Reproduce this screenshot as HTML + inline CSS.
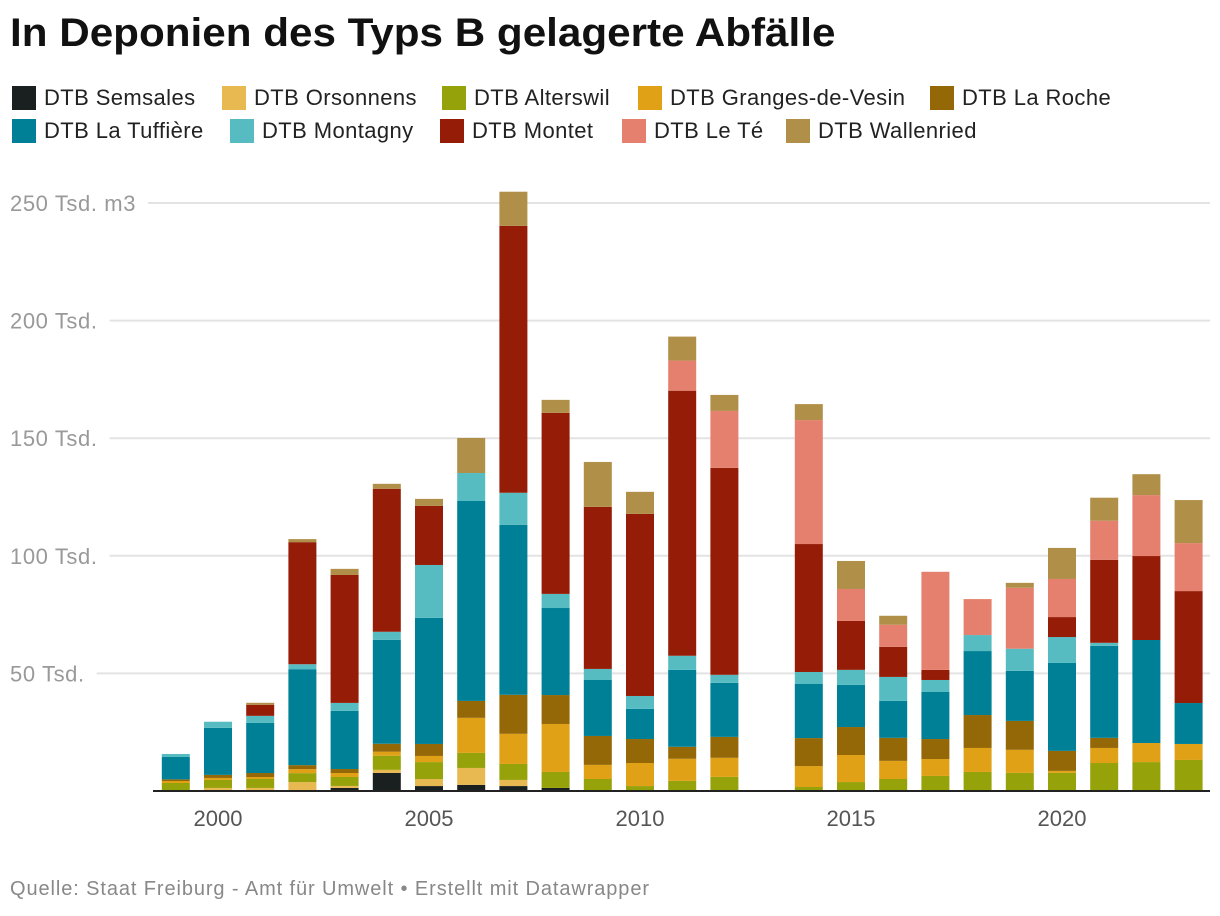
<!DOCTYPE html>
<html><head><meta charset="utf-8">
<style>
body{margin:0;background:#fff;font-family:"Liberation Sans",Roboto,sans-serif;}
#wrap{position:relative;width:1220px;height:916px;overflow:hidden;}
h1{position:absolute;left:10px;top:11px;margin:0;font-size:40px;font-weight:bold;color:#111;transform:scaleX(1.055);transform-origin:0 0;white-space:nowrap;}
.leg{position:absolute;display:flex;align-items:center;font-size:22px;color:#222;letter-spacing:0.4px;white-space:nowrap;}
.sw{width:24px;height:24px;margin-right:8px;display:inline-block;}
#foot{position:absolute;left:10px;top:878px;font-size:20px;letter-spacing:0.9px;color:#888;white-space:nowrap;}
</style></head>
<body><div id="wrap">
<h1>In Deponien des Typs B gelagerte Abfälle</h1>
<div id="legend"></div>
<svg id="chart" width="1220" height="916" style="position:absolute;left:0;top:0"></svg>
<div id="foot">Quelle: Staat Freiburg - Amt für Umwelt • Erstellt mit Datawrapper</div>
</div>
<script>
const years=[1999,2000,2001,2002,2003,2004,2005,2006,2007,2008,2009,2010,2011,2012,2014,2015,2016,2017,2018,2019,2020,2021,2022,2023];
const seriesNames=["DTB Semsales","DTB Orsonnens","DTB Alterswil","DTB Granges-de-Vesin","DTB La Roche","DTB La Tuffière","DTB Montagny","DTB Montet","DTB Le Té","DTB Wallenried"];
const colors=["#1a1f1f","#e8b851","#96a20a","#e0a117","#956807","#008097","#56bcc2","#951d08","#e5806e","#b08f48"];
const semsales=[0,0,0,0.4,1.3,7.7,2.1,2.6,2.1,1.3,0,0,0,0,0,0,0,0,0,0,0,0,0,0];
const orsonnens=[0,1.3,1.3,3.4,0.85,1.3,3,7.2,2.6,0,0,0,0,0,0,0,0,0,0,0,0,0,0,0];
const alterswil=[3.4,3.4,3.8,3.8,3.8,6,7.2,6.4,6.8,6.8,5.1,2.1,4.3,6,1.7,3.8,5.1,6.4,8.1,7.7,7.7,11.9,12.3,13.2];
const granges=[0.85,0.85,0.85,1.7,1.7,1.7,2.6,14.9,12.8,20.4,6,9.8,9.4,8.1,8.9,11.5,7.7,7.2,10.2,9.8,0.85,6.4,8.1,6.8];
const laRoche=[0.7,1.3,1.7,1.7,1.7,3.4,5.1,7.2,16.6,12.3,12.3,10.2,5.1,8.9,11.9,11.9,9.8,8.5,14,12.3,8.5,4.3,0,0];
const tuffiere=[9.5,20,21.3,40.8,24.7,44.2,53.6,85,72.3,37,23.8,12.8,32.7,23,23,17.9,15.7,20,27.2,21.3,37.4,39.1,43.8,17.4];
const montagny=[1.3,2.6,3,2.1,3.4,3.4,22.5,11.9,13.6,6,4.7,5.5,6,3.4,5.1,6.4,10.2,5.1,6.8,9.4,11,1.3,0,0];
const montet=[0,0,4.7,51.9,54.4,60.8,25.1,0,113.5,77,68.9,77.4,112.7,88,54.4,20.8,12.8,4.3,0,0,8.5,35.3,35.7,47.6];
const leTe=[0,0,0,0,0,0,0,0,0,0,0,0,12.8,24.2,52.7,13.6,9.4,41.7,15.3,25.9,16.2,16.6,25.9,20.4];
const wallenried=[0,0,0.85,1.3,2.6,2.1,3,14.9,14.5,5.5,19.1,9.4,10.2,6.8,6.8,11.9,3.8,0,0,2.1,13.2,9.8,8.9,18.3];
const series=[semsales,orsonnens,alterswil,granges,laRoche,tuffiere,montagny,montet,leTe,wallenried];
const yTicks=[50,100,150,200,250];
const yTickLabels=["50 Tsd.","100 Tsd.","150 Tsd.","200 Tsd.","250 Tsd. m3"];
const xTicks=[2000,2005,2010,2015,2020];

const NS="http://www.w3.org/2000/svg";
const svg=document.getElementById('chart');
function y(v){return 791-v*2.352;}
function x(yr){return 218+(yr-2000)*42.2;}
function mk(tag,attrs){const e=document.createElementNS(NS,tag);for(const k in attrs)e.setAttribute(k,attrs[k]);svg.appendChild(e);return e;}

yTicks.forEach((t,i)=>{
  const lab=yTickLabels[i];
  const tx=mk('text',{x:10,y:y(t)+8,'font-size':22,fill:'#999','letter-spacing':'0.6','font-family':'Liberation Sans, sans-serif'});
  tx.textContent=lab;
  
  
  const w=tx.getComputedTextLength();
  const g=mk('line',{x1:10+w+12,x2:1210,y1:y(t),y2:y(t),stroke:'#e3e3e3','stroke-width':2});
  
  
});

years.forEach((yr,i)=>{
  let cum=0;
  series.forEach((s,j)=>{
    const v=s[i];
    if(v<=0)return;
    const r=mk('rect',{x:x(yr)-14,y:y(cum+v),width:28,height:v*2.352,fill:colors[j]});
    
    
    cum+=v;
  });
});

const ax=mk('line',{x1:153,x2:1210,y1:791,y2:791,stroke:'#222','stroke-width':2});


xTicks.forEach(t=>{
  const tx=mk('text',{x:x(t),y:826,'font-size':22,fill:'#555','text-anchor':'middle','font-family':'Liberation Sans, sans-serif'});
  tx.textContent=t;
  
  
});

const legPos=[[12,98],[222,98],[442,98],[638,98],[930,98],[12,131],[230,131],[440,131],[622,131],[786,131]];
const legend=document.getElementById('legend');
seriesNames.forEach((n,i)=>{
  const d=document.createElement('div');
  d.className='leg';
  d.style.left=legPos[i][0]+'px';
  d.style.top=(legPos[i][1]-13)+'px';
  
  
  d.innerHTML='<span class="sw" style="background:'+colors[i]+'"></span>'+n;
  legend.appendChild(d);
});
</script>
</body></html>
